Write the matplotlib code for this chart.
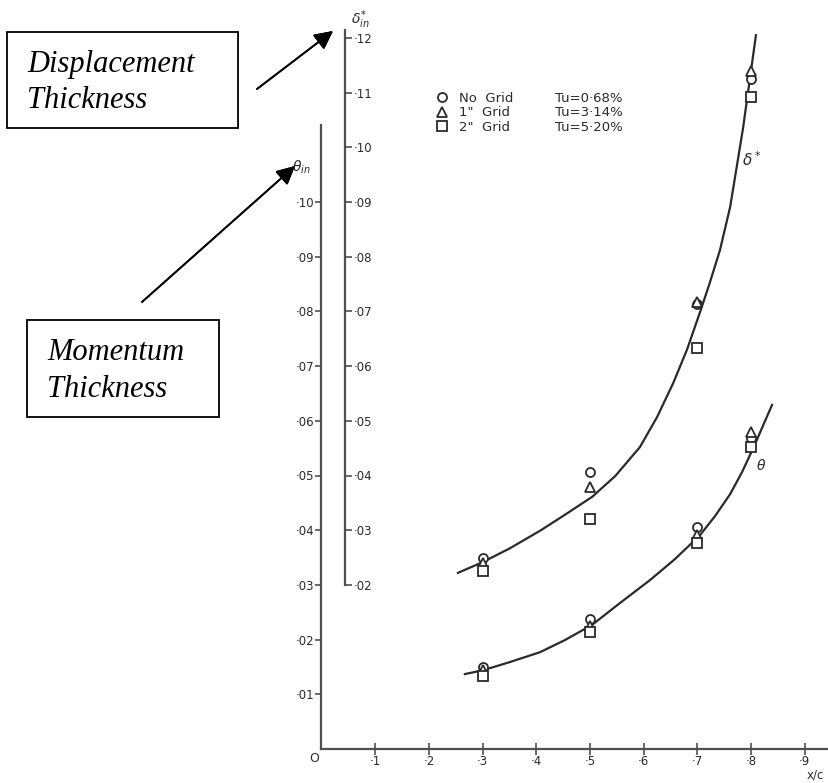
import matplotlib
matplotlib.use("Agg")
import matplotlib.pyplot as plt
from matplotlib.lines import Line2D
from matplotlib.patches import Rectangle

W, H = 829, 783

# measured stations (x/c)
x_stations = [0.3, 0.5, 0.7, 0.8]

# momentum thickness theta (in)
theta_no_grid = [0.0150, 0.0237, 0.0406, 0.0569]
theta_grid_1 = [0.0145, 0.0225, 0.0392, 0.0580]
theta_grid_2 = [0.0134, 0.0214, 0.0377, 0.0552]

# displacement thickness delta* (in)
dstar_no_grid = [0.0250, 0.0406, 0.0713, 0.1125]
dstar_grid_1 = [0.0240, 0.0379, 0.0718, 0.1140]
dstar_grid_2 = [0.0225, 0.0320, 0.0633, 0.1092]

# faired curves
theta_curve_x = [0.267, 0.301, 0.351, 0.407, 0.453, 0.504, 0.556, 0.612,
                 0.658, 0.705, 0.733, 0.761, 0.783, 0.804, 0.839]
theta_curve_y = [0.0137, 0.0144, 0.0159, 0.0177, 0.0199, 0.0227, 0.0267, 0.0309,
                 0.0347, 0.0391, 0.0426, 0.0466, 0.0506, 0.0550, 0.0629]
dstar_curve_x = [0.254, 0.301, 0.351, 0.407, 0.453, 0.504, 0.547, 0.593, 0.625,
                 0.655, 0.681, 0.705, 0.723, 0.742, 0.761, 0.785, 0.809]
dstar_curve_y = [0.0222, 0.0242, 0.0267, 0.0299, 0.0328, 0.0361, 0.0399, 0.0452, 0.0507,
                 0.0569, 0.0631, 0.0699, 0.0752, 0.0812, 0.0891, 0.1035, 0.1205]

grid_labels = ["No  Grid", '1"  Grid', '2"  Grid']
tu_labels = ["Tu=0·68%", "Tu=3·14%", "Tu=5·20%"]
markers = ["o", "^", "s"]

x_ticks = [0.1, 0.2, 0.3, 0.4, 0.5, 0.6, 0.7, 0.8, 0.9]
theta_ticks = [0.01, 0.02, 0.03, 0.04, 0.05, 0.06, 0.07, 0.08, 0.09, 0.10]
dstar_ticks = [0.02, 0.03, 0.04, 0.05, 0.06, 0.07, 0.08, 0.09, 0.10, 0.11, 0.12]

INK = "#2a2a2a"
AXIS = "#505050"


def fx(px):
    return px / W


def fy(py):
    return 1 - py / H


def dot_label(v, digits):
    return "·" + f"{v:.{digits}f}".split(".")[1]


fig = plt.figure(figsize=(W / 100, H / 100), dpi=100)

x0, y0 = 321.5, 749
ax = fig.add_axes([fx(x0), fy(y0), 1 - fx(x0), 1 - fy(y0)])
ax.set_xlim(0, (W - x0) / 537)
ax.set_ylim(0, y0 / 5470)
ax.patch.set_alpha(0)

for s in ("top", "right"):
    ax.spines[s].set_visible(False)
for s in ("left", "bottom"):
    ax.spines[s].set_color(AXIS)
    ax.spines[s].set_linewidth(1.6)
ax.spines["left"].set_bounds(0, (y0 - 125) / 5470)

ax.set_xticks(x_ticks)
ax.set_xticklabels([dot_label(v, 1) for v in x_ticks])
ax.set_yticks(theta_ticks)
ax.set_yticklabels([dot_label(v, 2) for v in theta_ticks])
ax.tick_params(axis="x", direction="inout", length=8, width=1.2, pad=0,
               colors=AXIS, labelcolor=INK, labelsize=8.5)
ax.tick_params(axis="y", direction="out", length=4, width=1.2, pad=1,
               colors=AXIS, labelcolor=INK, labelsize=8.5)

# delta* scale, offset by 0.01 against theta
ax2 = ax.twinx()
ax2.set_ylim(-0.01, y0 / 5470 - 0.01)
for s in ("top", "left", "bottom"):
    ax2.spines[s].set_visible(False)
ax2.spines["right"].set_position(("data", (345 - x0) / 537))
ax2.spines["right"].set_bounds(0.02, 0.1215)
ax2.spines["right"].set_color(AXIS)
ax2.spines["right"].set_linewidth(1.6)
ax2.set_yticks(dstar_ticks)
ax2.set_yticklabels([dot_label(v, 2) for v in dstar_ticks])
ax2.tick_params(axis="y", direction="out", length=5, width=1.2, pad=1,
                colors=AXIS, labelcolor=INK, labelsize=8.5)

# curves
ax.plot(theta_curve_x, theta_curve_y, color=INK, lw=1.6, zorder=2)
ax2.plot(dstar_curve_x, dstar_curve_y, color=INK, lw=1.6, zorder=2)

handles = []
theta_sets = [theta_no_grid, theta_grid_1, theta_grid_2]
dstar_sets = [dstar_no_grid, dstar_grid_1, dstar_grid_2]
for m, th, ds in zip(markers, theta_sets, dstar_sets):
    kw = dict(linestyle="none", marker=m, ms=6.5, mfc="white", mec=INK, mew=1.3, zorder=3)
    h, = ax.plot(x_stations, th, **kw)
    ax2.plot(x_stations, ds, **kw)
    handles.append(h)

blank = [Line2D([], [], linestyle="none") for _ in tu_labels]
leg = ax.legend(handles + blank, grid_labels + tu_labels, ncol=2,
                loc="upper left", bbox_to_anchor=(fx(437), fy(92)),
                bbox_transform=fig.transFigure, frameon=False,
                fontsize=9.5, handlelength=0.8, handletextpad=0.9,
                labelspacing=0.1, columnspacing=1.45, borderpad=0,
                borderaxespad=0, labelcolor=INK)

# curve and axis labels
ax2.annotate(r"$\delta^*$", xy=(fx(752), fy(160)), xycoords="figure fraction",
             fontsize=11, color=INK, ha="center", va="center")
ax.annotate(r"$\theta$", xy=(fx(761), fy(465)), xycoords="figure fraction",
            fontsize=10, color=INK, ha="center", va="center")
fig.text(fx(360), fy(20), r"$\delta_{in}^{*}$", fontsize=10, color=INK,
         ha="center", va="center")
fig.text(fx(301), fy(167), r"$\theta_{in}$", fontsize=10, color=INK,
         ha="center", va="center")
fig.text(fx(314), fy(758), "O", fontsize=9, color=INK, ha="center", va="center")
fig.text(fx(815), fy(775), "x/c", fontsize=8.5, color=INK, ha="center", va="center")

# annotation boxes and arrows
serif = dict(family="Liberation Serif", style="italic", fontsize=22, color="black")
fig.add_artist(Rectangle((fx(7), fy(128)), fx(238) - fx(7), fy(32) - fy(128),
                         transform=fig.transFigure, fill=False, lw=1.3, ec="black"))
fig.text(fx(27), fy(72), "Displacement", va="baseline", **serif)
fig.text(fx(27), fy(108), "Thickness", va="baseline", **serif)

fig.add_artist(Rectangle((fx(27), fy(417)), fx(219) - fx(27), fy(320) - fy(417),
                         transform=fig.transFigure, fill=False, lw=1.3, ec="black"))
fig.text(fx(47), fy(360), "Momentum", va="baseline", **serif)
fig.text(fx(47), fy(397), "Thickness", va="baseline", **serif)

arrow = dict(arrowstyle="-|>", mutation_scale=28, lw=1.3, color="black",
             shrinkA=0, shrinkB=0)
fig.add_artist(plt.annotate("", xy=(fx(333), fy(31)), xytext=(fx(257), fy(89)),
                            xycoords="figure fraction", textcoords="figure fraction",
                            arrowprops=arrow))
fig.add_artist(plt.annotate("", xy=(fx(295), fy(166)), xytext=(fx(142), fy(302)),
                            xycoords="figure fraction", textcoords="figure fraction",
                            arrowprops=arrow))

fig.savefig("out.png", dpi=100)
